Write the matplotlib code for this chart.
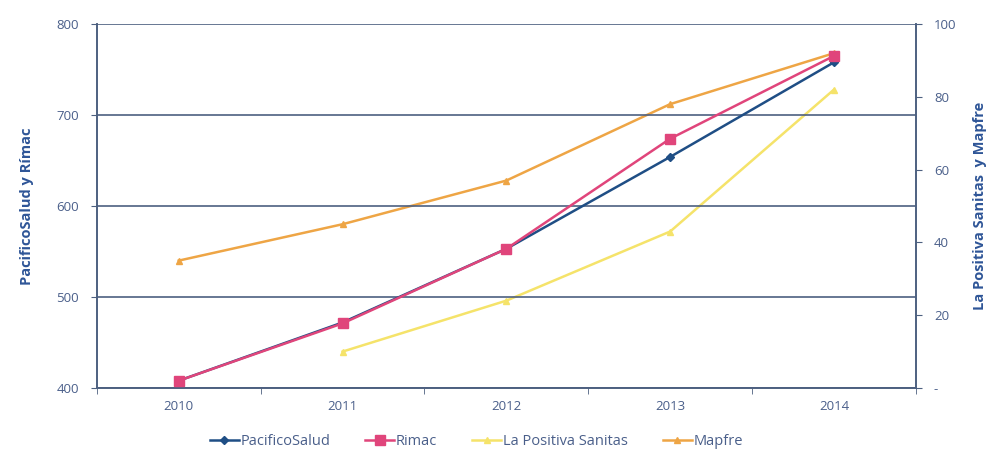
import matplotlib.pyplot as plt
from matplotlib.ticker import FuncFormatter
import numpy as np

# ---------------------------------------------------------
# Data
# ---------------------------------------------------------
years = ['2010', '2011', '2012', '2013', '2014']
pacifico = [408, 472, 553, 654, 758]
rimac = [408, 471, 553, 674, 765]
# right axis series (La Positiva starts 2011)
years_positiva = ['2011', '2012', '2013', '2014']
positiva = [10, 24, 43, 82]
mapfre = [35, 45, 57, 78, 92]

left_ticks = [400, 500, 600, 700, 800]
right_ticks = [0, 20, 40, 60, 80, 100]

# ---------------------------------------------------------
# Style
# ---------------------------------------------------------
plt.rcParams['font.family'] = ['Open Sans', 'DejaVu Sans']
c_pacifico = '#1f4e85'
c_rimac = '#e0457b'
c_positiva = '#f5e36a'
c_mapfre = '#eea545'
c_grid = '#4d6080'
c_text = '#4a5f8a'
c_label = '#2e5597'

fig = plt.figure(figsize=(9.88, 4.63), dpi=100)
ax = fig.add_axes([0.098, 0.162, 0.829, 0.786])
ax2 = ax.twinx()

x = np.arange(len(years))
x_pos = np.array([years.index(y) for y in years_positiva])

# ---------------------------------------------------------
# Plot
# ---------------------------------------------------------
l1, = ax.plot(x, pacifico, color=c_pacifico, lw=1.8, marker='D', ms=4, label='PacificoSalud', zorder=3)
l2, = ax.plot(x, rimac, color=c_rimac, lw=1.8, marker='s', ms=7, label='Rimac', zorder=4)
l3, = ax2.plot(x_pos, positiva, color=c_positiva, lw=1.8, marker='^', ms=5, label='La Positiva Sanitas')
l4, = ax2.plot(x, mapfre, color=c_mapfre, lw=1.8, marker='^', ms=5, label='Mapfre')

ax.set_zorder(ax2.get_zorder() + 1)
ax.patch.set_visible(False)

ax.set_xlim(-0.5, len(years) - 0.5)
ax.set_ylim(400, 800)
ax2.set_ylim(0, 100)

ax.set_yticks(left_ticks)
ax2.set_yticks(right_ticks)
ax2.yaxis.set_major_formatter(FuncFormatter(lambda v, p: '-' if v == 0 else f'{int(v)}'))

ax.set_xticks(x)
ax.set_xticklabels(years)
ax.set_xticks(np.arange(-0.5, len(years), 1), minor=True)
ax.tick_params(axis='x', which='major', length=0, pad=9, labelsize=9.5, labelcolor=c_text)
ax.tick_params(axis='x', which='minor', length=4, color=c_grid, direction='out')
ax.tick_params(axis='y', length=4, color=c_grid, labelsize=9.5, labelcolor=c_text, pad=9)
ax2.tick_params(axis='y', length=4, color=c_grid, labelsize=9.5, labelcolor=c_text, pad=9)

ax.grid(axis='y', color=c_grid, lw=1.2)
for a in (ax, ax2):
    a.spines['top'].set_visible(False)
    for s in ('left', 'right', 'bottom'):
        a.spines[s].set_color(c_grid)
        a.spines[s].set_linewidth(1.2)

ax.set_ylabel('PacificoSalud y Rímac', color=c_label, fontsize=10.5, fontweight='bold', labelpad=16)
ax2.set_ylabel('La Positiva Sanitas  y Mapfre', color=c_label, fontsize=10.5, fontweight='bold', labelpad=12)

leg = fig.legend(handles=[l1, l2, l3, l4], loc='center', bbox_to_anchor=(0.482, 0.047), ncol=4,
                 frameon=False, fontsize=10.5, columnspacing=2.4, handlelength=2.0, handletextpad=0.1)
for t in leg.get_texts():
    t.set_color(c_text)

plt.savefig('out.png', dpi=100)
